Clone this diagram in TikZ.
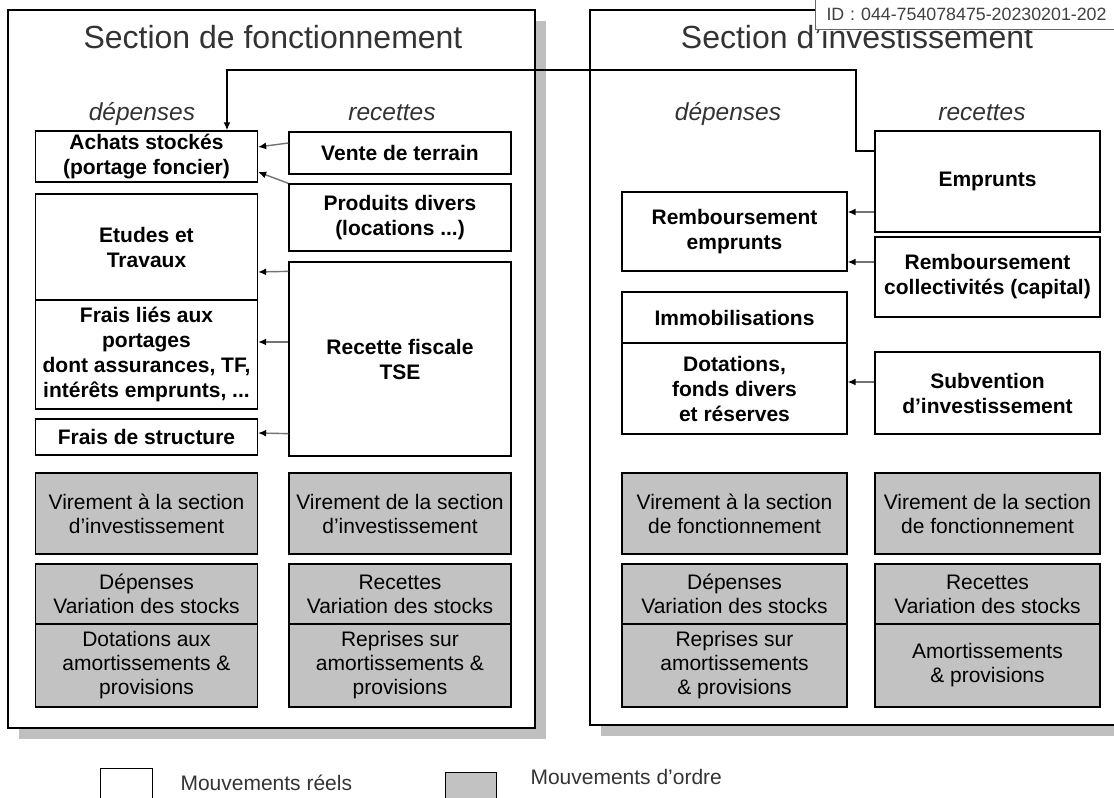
\documentclass[tikz,border=0pt]{standalone}
\usepackage{fontspec}
\setmainfont{Liberation Sans}
\usepackage{xcolor}
\usetikzlibrary{shapes,arrows.meta,positioning,shadows}
\definecolor{grisordre}{RGB}{194,194,194}
\definecolor{encre}{RGB}{51,51,51}

\begin{document}
\begin{tikzpicture}[x=1pt, y=1pt,
    cadre/.style={rectangle, draw, line width=1.8pt, fill=white, drop shadow={shadow xshift=11pt, shadow yshift=-11pt, opacity=1, fill=black!25}},
    titre/.style={anchor=base, text=encre, font=\fontsize{32}{36}\selectfont},
    colonne/.style={anchor=base, text=encre, font=\itshape\fontsize{24.5}{28}\selectfont},
    reel/.style={rectangle, draw, line width=1.3pt, fill=white, align=center, inner sep=2pt, font=\bfseries\fontsize{21}{25}\selectfont},
    ordre/.style={rectangle, draw, line width=1.3pt, fill=grisordre, align=center, inner sep=2pt, font=\fontsize{21}{24}\selectfont},
    largf/.style={minimum width=222pt},
    largi/.style={minimum width=225pt},
    fleche/.style={-{Latex[length=8pt, width=7pt, color=black]}, line width=1.4pt, draw=black!55},
    legende/.style={anchor=west, text=encre, font=\fontsize{21}{25}\selectfont}]
    \useasboundingbox (0,0) rectangle (1114,-798);
    \clip (0,0) rectangle (1114,-798);

    % Frames
    \node (fonc) [cadre, minimum width=527pt, minimum height=718pt] at (271.5,-369) {};
    \node (inv) [cadre, minimum width=540pt, minimum height=715pt] at (860,-367.5) {};
    \node (tFonc) [titre] at (273,-48) {Section de fonctionnement};
    \node (tInv) [titre] at (857,-48) {Section d’investissement};
    \node (idbox) [anchor=north west, draw=black!60, line width=1pt, fill=white, minimum height=30pt, text width=300pt, inner xsep=11pt, align=left, text=black!75, font=\fontsize{17.8}{20}\selectfont] at (815,1) {ID : 044-754078475-20230201-202};

    % Column heads
    \node (depF) [colonne] at (142,-120) {dépenses};
    \node (recF) [colonne] at (392,-120) {recettes};
    \node (depI) [colonne] at (728,-120) {dépenses};
    \node (recI) [colonne] at (982,-120) {recettes};

    % Fonctionnement - depenses
    \node (achats) [reel, largf, minimum height=51pt] at (146.5,-156.5) {Achats stockés\\(portage foncier)};
    \node (etudes) [reel, largf, minimum height=106pt, node distance=90.5pt, below of=achats] {Etudes et\\Travaux};
    \node (portages) [reel, largf, minimum height=109pt, node distance=107.5pt, below of=etudes] {Frais liés aux\\portages\\dont assurances, TF,\\intérêts emprunts, ...};
    \node (structure) [reel, largf, minimum height=36pt, node distance=82.5pt, below of=portages] {Frais de structure};
    \node (virInv) [ordre, largf, minimum height=81pt, node distance=76.5pt, below of=structure] {Virement à la section\\d’investissement};
    \node (depVarF) [ordre, largf, minimum height=60pt, node distance=80.5pt, below of=virInv] {Dépenses\\Variation des stocks};
    \node (dotAm) [ordre, largf, minimum height=83pt, node distance=71.5pt, below of=depVarF] {Dotations aux\\amortissements \&\\provisions};

    % Fonctionnement - recettes
    \node (vente) [reel, largf, minimum height=42pt] at (400,-153) {Vente de terrain};
    \node (produits) [reel, largf, minimum height=67pt, node distance=64.5pt, below of=vente] {Produits divers\\(locations ...)};
    \node (recette) [reel, largf, minimum height=194pt, node distance=141.5pt, below of=produits] {Recette fiscale\\TSE};
    \node (virDeInv) [ordre, largf, minimum height=81pt, node distance=253.5pt, right of=virInv] {Virement de la section\\d’investissement};
    \node (recVarF) [ordre, largf, minimum height=60pt, node distance=253.5pt, right of=depVarF] {Recettes\\Variation des stocks};
    \node (repAm) [ordre, largf, minimum height=83pt, node distance=253.5pt, right of=dotAm] {Reprises sur\\amortissements \&\\provisions};

    % Investissement - depenses
    \node (rembemp) [reel, largi, minimum height=79pt] at (734.5,-231.5) {Remboursement\\emprunts};
    \node (immo) [reel, largi, minimum height=51pt, node distance=86pt, below of=rembemp] {Immobilisations};
    \node (dotfonds) [reel, largi, minimum height=91pt, node distance=71pt, below of=immo] {Dotations,\\fonds divers\\et réserves};
    \node (virFonc) [ordre, largi, minimum height=81pt, node distance=334.5pt, right of=virDeInv] {Virement à la section\\de fonctionnement};
    \node (depVarI) [ordre, largi, minimum height=60pt, node distance=334.5pt, right of=recVarF] {Dépenses\\Variation des stocks};
    \node (repAmI) [ordre, largi, minimum height=83pt, node distance=334.5pt, right of=repAm] {Reprises sur\\amortissements\\\& provisions};

    % Investissement - recettes
    \node (emprunts) [reel, largi, minimum height=101pt] at (987.5,-181.5) {Emprunts};
    \node (rembcoll) [reel, largi, minimum height=80pt, node distance=95.5pt, below of=emprunts] {Remboursement\\collectivités (capital)};
    \node (subv) [reel, largi, minimum height=82pt, node distance=116pt, below of=rembcoll] {Subvention\\d’investissement};
    \node (virDeFonc) [ordre, largi, minimum height=81pt, node distance=253pt, right of=virFonc] {Virement de la section\\de fonctionnement};
    \node (recVarI) [ordre, largi, minimum height=60pt, node distance=253pt, right of=depVarI] {Recettes\\Variation des stocks};
    \node (amort) [ordre, largi, minimum height=83pt, node distance=253pt, right of=repAmI] {Amortissements\\\& provisions};

    % Legend
    \node (boxReel) [reel, line width=1pt, minimum width=52pt, minimum height=50pt] at (126,-793) {};
    \node (txtReel) [legende] at (177,-783) {Mouvements réels};
    \node (boxOrdre) [ordre, line width=1pt, minimum width=51pt, minimum height=50pt] at (470.5,-797) {};
    \node (txtOrdre) [legende] at (527,-777) {Mouvements d’ordre};

    % Edges
    \draw[fleche] ([yshift=10pt]vente.west) -- ([yshift=9.5pt]achats.east);
    \draw[fleche] (produits.north west) -- ([yshift=-15.5pt]achats.east);
    \draw[fleche] ([yshift=-10pt]recette.north west) -- ([yshift=-25pt]etudes.east);
    \draw[fleche] ([yshift=17pt]recette.west) -- ([yshift=12.5pt]portages.east);
    \draw[fleche] ([yshift=23pt]recette.south west) -- ([yshift=4pt]structure.east);
    \draw[fleche] ([yshift=-30.5pt]emprunts.west) -- ([yshift=19.5pt]rembemp.east);
    \draw[fleche] ([yshift=15pt]rembcoll.west) -- ([yshift=-30.5pt]rembemp.east);
    \draw[fleche] ([yshift=11pt]subv.west) -- ([yshift=6.5pt]dotfonds.east);
    \coordinate (coude) at (856,-70);
    \draw[line width=1.6pt, -{Latex[length=8pt, width=7pt]}] ([yshift=30.5pt]emprunts.west) -| (coude) -| ([xshift=80.5pt]achats.north);
\end{tikzpicture}
\end{document}
